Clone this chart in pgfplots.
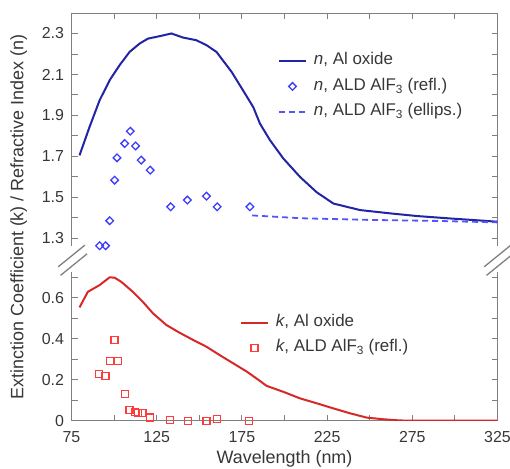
\documentclass[border=0pt]{standalone}
\usepackage{pgfplots}
\usepackage{pgfplotstable}
\pgfplotsset{compat=1.18}
\usepackage{fontspec}
\setmainfont{Liberation Sans}
\definecolor{nline}{RGB}{35,35,165}
\definecolor{ndia}{RGB}{60,60,255}
\definecolor{ndash}{RGB}{85,85,255}
\definecolor{kline}{RGB}{215,40,40}
\definecolor{ksq}{RGB}{255,60,60}
\definecolor{axgray}{RGB}{128,128,128}
\definecolor{txt}{RGB}{55,55,55}
\pgfplotstableread{
x n
79.7 1.705
85.6 1.844
91.5 1.974
97.4 2.072
103.2 2.145
109.1 2.21
115 2.251
119.9 2.275
126.8 2.287
133.6 2.300
140.5 2.280
148.3 2.267
154.2 2.243
160.1 2.21
169 2.112
176.8 2.007
181.7 1.94
185.6 1.86
191.5 1.779
199.3 1.690
209.1 1.60
218.9 1.525
228.7 1.47
244.4 1.438
262 1.422
277.7 1.409
297.4 1.397
317 1.386
325 1.381
}\nAl
\pgfplotstableread{
x n
91.5 1.264
95 1.264
97.4 1.386
100.3 1.584
101.7 1.693
106.2 1.763
109.5 1.823
112.6 1.751
115.9 1.682
121.2 1.633
133.2 1.454
143 1.487
154.2 1.506
160.5 1.454
179.7 1.454
}\nRefl
\pgfplotstableread{
x n
181 1.412
210 1.398
250 1.390
290 1.385
325 1.378
}\nEll
\pgfplotstableread{
x k
79.7 0.553
84.6 0.629
91.5 0.662
97.4 0.700
100.3 0.698
104.2 0.678
111 0.629
116.9 0.58
122.8 0.524
130.7 0.467
138.5 0.429
146.4 0.394
154.2 0.361
162 0.32
169.9 0.28
177.8 0.240
184.6 0.200
189.5 0.170
199.3 0.141
209.1 0.109
218.9 0.085
228.7 0.06
238.5 0.036
248.3 0.015
258.1 0.007
268 0.001
325 0
}\kAl
\pgfplotstableread{
x k
91.1 0.228
95 0.218
97.4 0.291
100.3 0.394
102.3 0.291
106.2 0.129
109.1 0.052
112.1 0.044
114 0.039
116.6 0.036
121.2 0.015
133 0.003
143.4 0
154.2 0
160.5 0.007
179.3 0
}\kRefl
\pgfplotsset{
  base/.style={
    at={(0,0)}, anchor=south west,
    scale only axis, width=426bp, height=407.7bp,
    xmin=75, xmax=325, ymin=0, ymax=1.99,
    legend style={draw=none, fill=none, inner sep=0pt, outer sep=0pt,
      font=\fontsize{17}{20}\selectfont\color{txt},
      nodes={inner sep=0pt, text height=12bp, text depth=4bp},
      row sep=9bp, cells={anchor=west}},
    legend image code/.code={\draw[mark repeat=2,mark phase=2,##1] plot coordinates {(0bp,0bp)(13.5bp,0bp)(27bp,0bp)};},
    /tikz/every odd column/.append style={column sep=7bp},
  }
}
\begin{document}
\begin{tikzpicture}
\path[use as bounding box] (-71.5bp,-48.3bp) rectangle (438.5bp,420.7bp);
\begin{axis}[base,
  axis line style={axgray, line width=0.9bp},
  every tick/.style={axgray, line width=0.9bp},
  major tick length=6bp, minor tick length=6bp,
  tick align=inside,
  xtick={75,125,175,225,275,325},
  minor xtick={100,150,200,250,300},
  ytick={0,0.2,0.4,0.6,0.89,1.09,1.29,1.49,1.69,1.89},
  yticklabels={0,0.2,0.4,0.6,1.3,1.5,1.7,1.9,2.1,2.3},
  minor ytick={0.1,0.3,0.5,0.7,0.99,1.19,1.39,1.59,1.79},
  tick label style={font=\fontsize{16}{19}\selectfont, text=txt},
  yticklabel style={xshift=-4bp},
  xticklabel style={yshift=-7bp},
  /pgf/number format/assume math mode=true,
  xlabel={Wavelength (nm)},
  ylabel={Extinction Coefficient (k) / Refractive Index (n)},
  label style={font=\fontsize{18}{21}\selectfont, text=txt},
  xlabel style={yshift=-1.5bp},
  ylabel style={yshift=8bp},
  legend style={at={(axis description cs:0.4847,0.902)}, anchor=north west, row sep=9.5bp},
]
\addplot[nline, line width=2bp] table[x=x, y expr=\thisrow{n}-0.41] {\nAl};
\addlegendentry{\textit{n}, Al oxide}
\addplot[ndia, only marks, mark=square, mark size=2.7bp, mark options={rotate=45, line width=1.3bp}] table[x=x, y expr=\thisrow{n}-0.41] {\nRefl};
\addlegendentry{\textit{n}, ALD AlF\textsubscript{3} (refl.)}
\addplot[ndash, line width=1.8bp, dash pattern=on 6bp off 4bp] table[x=x, y expr=\thisrow{n}-0.41] {\nEll};
\addlegendentry{\textit{n}, ALD AlF\textsubscript{3} (ellips.)}
\end{axis}
\begin{axis}[base, hide axis,
  legend style={at={(axis description cs:0.3955,0.26)}, anchor=north west},
]
\addplot[kline, line width=2bp] table[x=x, y=k] {\kAl};
\addlegendentry{\textit{k}, Al oxide}
\addplot[ksq, only marks, mark=square, mark size=3.5bp, mark options={line width=1.3bp}] table[x=x, y=k] {\kRefl};
\addlegendentry{\textit{k}, ALD AlF\textsubscript{3} (refl.)}
\end{axis}
% axis break marks
\fill[white] (-1.5bp,149bp) rectangle (1.5bp,175bp);
\fill[white] (424.5bp,149bp) rectangle (427.5bp,175bp);
\foreach \xx in {0bp,426bp}{
  \draw[axgray, line width=1.3bp] ([xshift=\xx]-13.3bp,153.9bp) -- ([xshift=\xx]13.3bp,175.5bp);
  \draw[axgray, line width=1.3bp] ([xshift=\xx]-11bp,145.3bp) -- ([xshift=\xx]15.6bp,166.9bp);
}
\end{tikzpicture}
\end{document}
